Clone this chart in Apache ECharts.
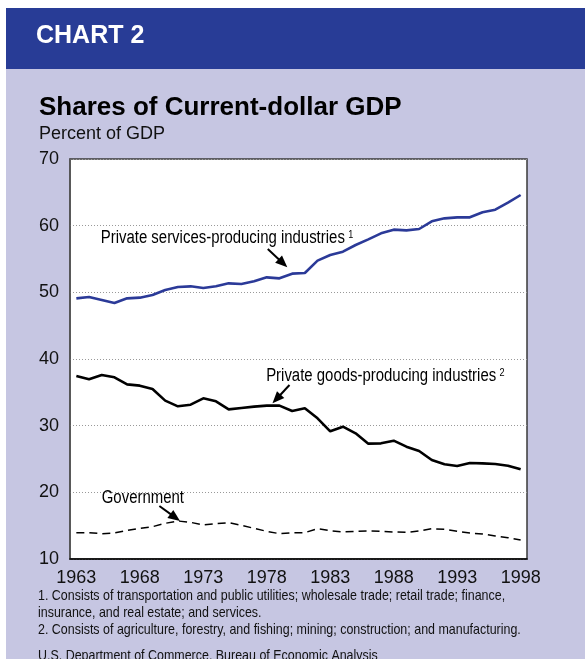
<!DOCTYPE html>
<html><head><meta charset="utf-8">
<script src="https://cdn.jsdelivr.net/npm/echarts@6/dist/echarts.min.js"></script>
<style>
html,body{margin:0;padding:0;background:#fff;}
#wrap{position:relative;width:585px;height:659px;overflow:hidden;background:#fff;}
#lav{position:absolute;left:6px;top:8px;width:579px;height:651px;background:#C6C6E2;}
#band{position:absolute;left:6px;top:8px;width:579px;height:61px;background:#283C96;}
#chart{position:absolute;left:0;top:0;width:585px;height:659px;}
</style></head>
<body>
<div id="wrap"><div id="lav"></div><div id="band"></div><div id="chart"></div></div>
<script>
const years = ['1963','1964','1965','1966','1967','1968','1969','1970','1971','1972','1973','1974','1975','1976','1977','1978','1979','1980','1981','1982','1983','1984','1985','1986','1987','1988','1989','1990','1991','1992','1993','1994','1995','1996','1997','1998'];
const services = [49.1,49.3,48.85,48.4,49.1,49.2,49.6,50.35,50.8,50.9,50.65,50.9,51.35,51.25,51.65,52.25,52.1,52.8,52.9,54.75,55.6,56.1,57.1,57.95,58.85,59.4,59.3,59.5,60.65,61.1,61.25,61.25,62.0,62.4,63.45,64.6];
const goods = [37.45,36.95,37.6,37.25,36.2,36.0,35.5,33.75,32.9,33.15,34.1,33.65,32.45,32.65,32.85,33.0,33.0,32.2,32.6,31.1,29.15,29.85,28.85,27.3,27.35,27.75,26.85,26.2,24.85,24.2,23.95,24.4,24.35,24.25,24.0,23.45];
const government = [13.95,13.95,13.8,13.9,14.3,14.6,14.85,15.35,15.7,15.5,15.1,15.3,15.45,15.05,14.6,14.15,13.8,13.95,13.95,14.55,14.25,14.05,14.15,14.2,14.15,14.05,14.0,14.2,14.55,14.45,14.15,13.9,13.75,13.45,13.2,12.85];
const yTicks = {min:10, max:70, interval:10};

const titleText = 'Shares of Current-dollar GDP';
const unitText = 'Percent of GDP';
const chartTag = 'CHART 2';
const footnotes = [
  '1. Consists of transportation and public utilities; wholesale trade; retail trade; finance,',
  'insurance, and real estate; and services.',
  '2. Consists of agriculture, forestry, and fishing; mining; construction; and manufacturing.'
];
const sourceText = 'U.S. Department of Commerce, Bureau of Economic Analysis';

// annotations in data units (category index, value)
const annotations = [
  {text:'Private services-producing industries', sup:'1', at:[1.92,58.15], from:[15.08,56.5], to:[16.62,53.75]},
  {text:'Private goods-producing industries', sup:'2', at:[14.95,37.45], from:[16.79,36.1], to:[15.45,33.35]},
  {text:'Government', sup:'', at:[2.0,19.2], from:[6.54,17.95], to:[8.17,15.7]}
];

const SANS = '"Liberation Sans",Arial,Helvetica,sans-serif';
const COND = 0.83;

const chart = echarts.init(document.getElementById('chart'), null, {renderer:'canvas'});
chart.setOption({
  backgroundColor:'transparent',
  animation:false,
  grid:{left:70, right:58, top:159, bottom:100, show:true, backgroundColor:'#ffffff', borderColor:'#3a3a3a', borderWidth:1.5},
  xAxis:{
    type:'category', data:years, boundaryGap:true,
    axisLine:{lineStyle:{color:'#000', width:1.5}},
    axisTick:{inside:true, length:10, interval:0, lineStyle:{color:'#000', width:1}},
    axisLabel:{interval:4, fontSize:18, color:'#111', margin:10, fontFamily:SANS},
    splitLine:{show:false}
  },
  yAxis:{
    type:'value', min:yTicks.min, max:yTicks.max, interval:yTicks.interval,
    axisLine:{show:true, lineStyle:{color:'#555', width:1.5}},
    axisTick:{show:false},
    axisLabel:{fontSize:18, color:'#111', margin:11, fontFamily:SANS},
    splitLine:{lineStyle:{color:'#999', width:1, type:[1,2]}}
  },
  series:[
    {name:'Private services-producing industries', type:'line', data:services, symbol:'none', lineStyle:{color:'#2B3A98', width:2.6}, z:3},
    {name:'Private goods-producing industries', type:'line', data:goods, symbol:'none', lineStyle:{color:'#000', width:2.6}, z:3},
    {name:'Government', type:'line', data:government, symbol:'none', lineStyle:{color:'#000', width:1.5, type:[8,5]}, z:3}
  ]
});

function P(idx, val){
  const a = chart.convertToPixel({gridIndex:0}, [0, val]);
  const b = chart.convertToPixel({gridIndex:0}, [1, val]);
  return [a[0] + (b[0]-a[0])*idx, a[1]];
}

const g = [];
g.push({type:'text', x:36, y:36, style:{text:chartTag, fill:'#fff', font:'bold 25px '+SANS, textVerticalAlign:'middle'}});
g.push({type:'text', x:39, y:108, style:{text:titleText, fill:'#000', font:'bold 26px '+SANS, textVerticalAlign:'middle'}});
g.push({type:'text', x:39, y:134, style:{text:unitText, fill:'#111', font:'18px '+SANS, textVerticalAlign:'middle'}});
const fy = [596, 613, 630];
footnotes.forEach((t,i)=>{
  g.push({type:'text', x:38, y:fy[i], scaleX:COND, style:{text:t, fill:'#111', font:'15px '+SANS, textVerticalAlign:'middle'}});
});
g.push({type:'text', x:38, y:656, scaleX:COND, style:{text:sourceText, fill:'#111', font:'15px '+SANS, textVerticalAlign:'middle'}});

annotations.forEach(a=>{
  const p = P(a.at[0], a.at[1]);
  g.push({type:'text', z:10, x:p[0], y:p[1], scaleX:COND, style:{
    text: a.sup ? '{m|'+a.text+'}{s|'+a.sup+'}' : '{m|'+a.text+'}',
    textVerticalAlign:'middle',
    rich:{m:{fontSize:18, fontFamily:SANS, color:'#111'}, s:{fontSize:11, fontFamily:SANS, color:'#111', verticalAlign:'top', padding:[0,0,0,4]}}
  }});
  const s = P(a.from[0], a.from[1]);
  const e = P(a.to[0], a.to[1]);
  const dx = e[0]-s[0], dy = e[1]-s[1];
  const L = Math.sqrt(dx*dx+dy*dy);
  const ux = dx/L, uy = dy/L;
  const hl = 12, hw = 5;
  const bx = e[0]-ux*hl, by = e[1]-uy*hl;
  g.push({type:'line', z:10, shape:{x1:s[0], y1:s[1], x2:bx+ux*2, y2:by+uy*2}, style:{stroke:'#000', lineWidth:2}});
  g.push({type:'polygon', z:10, shape:{points:[[e[0],e[1]],[bx-uy*hw,by+ux*hw],[bx+uy*hw,by-ux*hw]]}, style:{fill:'#000'}});
});
chart.setOption({graphic:g});
</script>
</body></html>
